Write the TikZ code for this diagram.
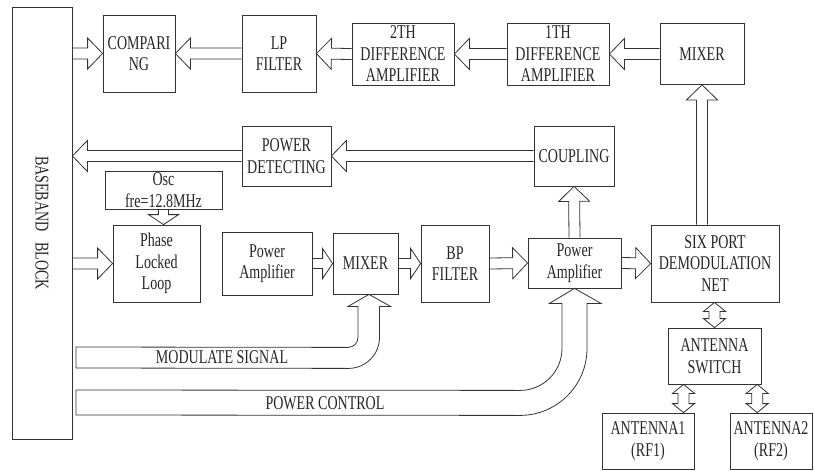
\documentclass[tikz,border=0pt]{standalone}
\usepackage{fontspec}
\setmainfont{Liberation Serif}[FakeStretch=0.72]
\usetikzlibrary{calc}

\tikzset{
	unit/.style={draw=black!80, line width=0.8pt, align=center, inner sep=0.5pt},
	arr/.style={draw=black!80, line width=0.8pt, line join=miter},
	% hollow block arrow: head length, head half width, shaft half width
	blkarrow/.style n args={3}{to path={
		($(\tikztostart)!#3!90:(\tikztotarget)$)
		-- ($(\tikztotarget)!#1!(\tikztostart)!#3!-90:(\tikztostart)$)
		-- ($(\tikztotarget)!#1!(\tikztostart)!#2!-90:(\tikztostart)$)
		-- (\tikztotarget)
		-- ($(\tikztotarget)!#1!(\tikztostart)!#2!90:(\tikztostart)$)
		-- ($(\tikztotarget)!#1!(\tikztostart)!#3!90:(\tikztostart)$)
		-- ($(\tikztostart)!#3!-90:(\tikztotarget)$)}},
	blk/.style={blkarrow={15pt}{15.5pt}{5.5pt}},
	sblk/.style={blkarrow={10pt}{15pt}{5pt}},
	% hollow block arrow with two heads
	dblk/.style={to path={
		-- ($(\tikztostart)!9pt!(\tikztotarget)!11pt!90:(\tikztotarget)$)
		-- ($(\tikztostart)!9pt!(\tikztotarget)!5.5pt!90:(\tikztotarget)$)
		-- ($(\tikztotarget)!9pt!(\tikztostart)!5.5pt!-90:(\tikztostart)$)
		-- ($(\tikztotarget)!9pt!(\tikztostart)!11pt!-90:(\tikztostart)$)
		-- (\tikztotarget)
		-- ($(\tikztotarget)!9pt!(\tikztostart)!11pt!90:(\tikztostart)$)
		-- ($(\tikztotarget)!9pt!(\tikztostart)!5.5pt!90:(\tikztostart)$)
		-- ($(\tikztostart)!9pt!(\tikztotarget)!5.5pt!-90:(\tikztotarget)$)
		-- ($(\tikztostart)!9pt!(\tikztotarget)!11pt!-90:(\tikztotarget)$)
		-- cycle}},
}

\begin{document}
\begin{tikzpicture}[x=1pt,y=1pt,font=\fontsize{19.5}{21.5}\selectfont,text=black!85]
	\useasboundingbox (0,0) rectangle (814,-471);

	\node[unit, minimum width=60, minimum height=432,
		label={[rotate=-90]center:BASEBAND\ \ \ BLOCK}] (base) at (42,-223) {};

	% upper chain
	\node[unit, minimum width=72, minimum height=77] (comp) at (139,-53.5) {COMPARI\\NG};
	\node[unit, minimum width=74, minimum height=77] (lpf) at (279,-53.5) {LP\\FILTER};
	\node[unit, minimum width=102, minimum height=62] (diff2) at (403,-54) {2TH\\DIFFERENCE\\AMPLIFIER};
	\node[unit, minimum width=102, minimum height=62] (diff1) at (558,-54) {1TH\\DIFFERENCE\\AMPLIFIER};
	\node[unit, minimum width=84, minimum height=61] (mixa) at (702,-54) {MIXER};

	\node[unit, minimum width=89, minimum height=60] (pdet) at (286.5,-156) {POWER\\DETECTING};
	\node[unit, minimum width=80, minimum height=60] (coup) at (574,-156) {COUPLING};

	% transmit chain
	\node[unit, minimum width=117, minimum height=38] (osc) at (163.5,-190) {Osc\\fre=12.8MHz};
	\node[unit, minimum width=87, minimum height=77] (pll) at (156.5,-263.5) {Phase\\Locked\\Loop};
	\node[unit, minimum width=90, minimum height=63] (pa1) at (267,-263.5) {Power\\Amplifier};
	\node[unit, minimum width=65, minimum height=61] (mixb) at (365.5,-263.5) {MIXER};
	\node[unit, minimum width=68, minimum height=77] (bpf) at (455,-263.5) {BP\\FILTER};
	\node[unit, minimum width=93, minimum height=50] (pa2) at (574.5,-263) {Power\\Amplifier};
	\node[unit, minimum width=128, minimum height=77] (six) at (715,-263.5) {SIX PORT\\DEMODULATION\\NET};

	% antennas
	\node[unit, minimum width=93, minimum height=56] (sw) at (714.5,-356) {ANTENNA\\SWITCH};
	\node[unit, minimum width=92, minimum height=56] (ant1) at (648,-441) {ANTENNA1\\(RF1)};
	\node[unit, minimum width=82, minimum height=56] (ant2) at (771,-441) {ANTENNA2\\(RF2)};

	% block arrows
	\draw[arr] (base.east |- comp.west) to[blk] (comp.west);
	\draw[arr] (lpf.west) to[blk] (comp.east);
	\draw[arr] (diff2.west) to[blk] (lpf.east);
	\draw[arr] (diff1.west) to[blk] (diff2.east);
	\draw[arr] (mixa.west) to[blk] (diff1.east);
	\draw[arr] (mixa.south |- six.north) to[blk] (mixa.south);
	\draw[arr] (coup.west) to[blk] (pdet.east);
	\draw[arr] (pdet.west) to[blk] (base.east |- pdet.west);
	\draw[arr] (osc.south) to[sblk] (osc.south |- pll.north);
	\draw[arr] (base.east |- pll.west) to[blk] (pll.west);
	\draw[arr] (pa1.east) to[sblk] (mixb.west);
	\draw[arr] (mixb.east) to[sblk] (bpf.west);
	\draw[arr] (bpf.east) to[blk] (pa2.west);
	\draw[arr] (pa2.north) to[blk] (coup.south);
	\draw[arr] (pa2.east) to[blk] (six.west);

	\coordinate (swa) at ($(sw.south west)!0.17!(sw.south east)$);
	\coordinate (swb) at ($(sw.south west)!0.955!(sw.south east)$);
	\draw[arr] (sw.north |- six.south) to[dblk] (sw.north);
	\draw[arr] (swa) to[dblk] (swa |- ant1.north);
	\draw[arr] (swb) to[dblk] (swb |- ant2.north);

	% bent arrows from the baseband block
	\coordinate (modtip) at ($(mixb.south)+(3.5,0)$);
	\coordinate (modend) at (76,-368);
	\draw[arr] (modtip) -- ++(21.5,-12) -- ++(-11,0) -- ++(0,-31)
		arc[start angle=0, end angle=-90, radius=31] -- (modend) -- ++(0,21)
		-- ($(modtip)+(-21,-53)$) arc[start angle=-90, end angle=0, radius=10]
		-- ++(0,31) -- ++(-10,0) -- cycle;
	\node (modlbl) at (222,-357) {MODULATE SIGNAL};

	\coordinate (pctip) at (pa2.south);
	\coordinate (pcend) at (76,-415);
	\draw[arr] (pctip) -- ++(26.5,-15) -- ++(-14,0) -- ++(0,-45)
		arc[start angle=0, end angle=-90, radius=67] -- (pcend) -- ++(0,25)
		-- ($(pctip)+(-54.5,-102)$) arc[start angle=-90, end angle=0, radius=42]
		-- ++(0,45) -- ++(-12.5,0) -- cycle;
	\node (pclbl) at (325,-403) {POWER CONTROL};
\end{tikzpicture}
\end{document}
